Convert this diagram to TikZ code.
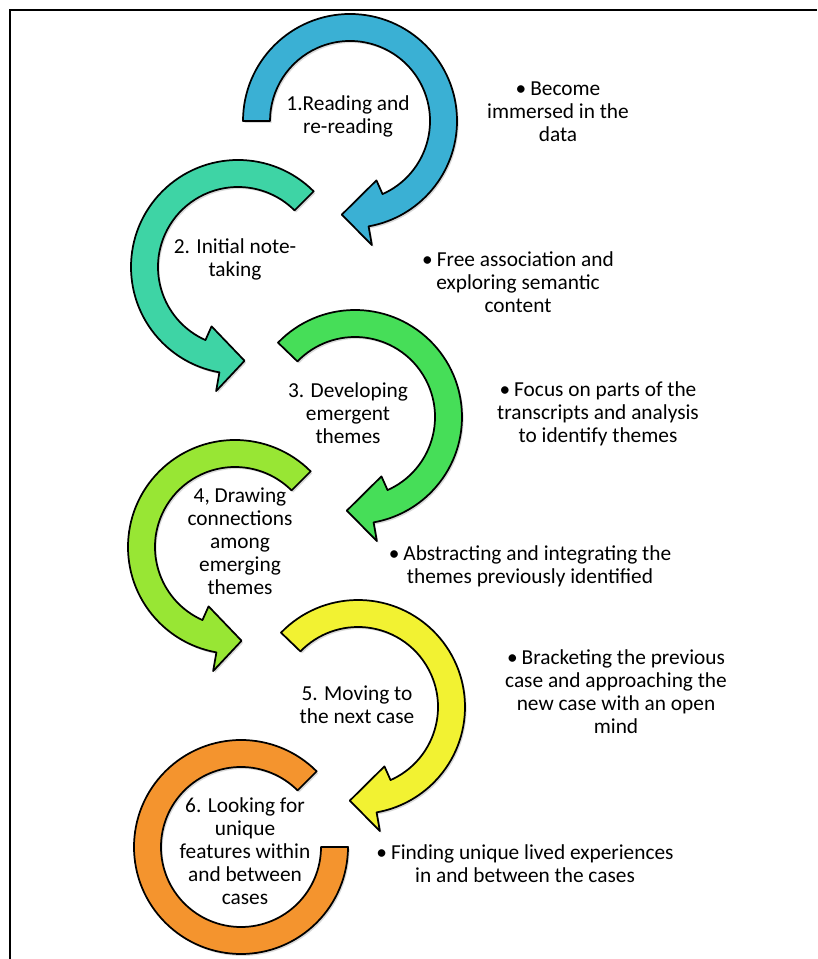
\documentclass[tikz,border=0pt]{standalone}
\usepackage{fontspec}
\setmainfont{Carlito}
\usepackage{xcolor}
\usetikzlibrary{shadows}
\definecolor{stepblue}{RGB}{58, 176, 212}
\definecolor{stepteal}{RGB}{62, 212, 165}
\definecolor{stepgreen}{RGB}{70, 222, 88}
\definecolor{steplime}{RGB}{152, 230, 52}
\definecolor{stepyellow}{RGB}{242, 242, 50}
\definecolor{steporange}{RGB}{244, 148, 46}
\tikzset{
  ringarrow/.style={draw=black, line width=1.3pt, fill=#1, line join=round,
                    drop shadow={shadow xshift=1.2pt, shadow yshift=-1.5pt, opacity=0.3}},
  steplabel/.style={align=center, inner sep=0pt, text=black,
                    font=\fontsize{16}{17.3}\selectfont},
  notelabel/.style={align=center, inner sep=0pt, text=black,
                    font=\fontsize{16}{17.3}\selectfont},
}
% clockwise ring: centre x, centre y, tail angle, colour
\newcommand{\cwring}[4]{%
  \begin{scope}[shift={(#1,#2)}]
    \filldraw[ringarrow=#4] (#3:107) arc[start angle=#3, end angle=-80, radius=107]
      -- (-80:126) -- (-95:94) -- (-66:65) -- (-66:80)
      arc[start angle=-66, end angle=#3, radius=80] -- cycle;
  \end{scope}}
% counter-clockwise ring: centre x, centre y, tail angle, colour
\newcommand{\ccwring}[4]{%
  \begin{scope}[shift={(#1,#2)}]
    \filldraw[ringarrow=#4] (#3:107) arc[start angle=#3, end angle=260, radius=107]
      -- (260:126) -- (274:94) -- (246:65) -- (246:80)
      arc[start angle=246, end angle=#3, radius=80] -- cycle;
  \end{scope}}

\begin{document}
\begin{tikzpicture}[x=0.75pt, y=0.75pt]
  \useasboundingbox (0,0) rectangle (817,959);
  % frame
  \draw[line width=2pt] (10,0) -- (10,949) -- (817,949);

  % ring arrows
  \cwring{350}{838}{180}{stepblue}
  \ccwring{238}{692}{45}{stepteal}
  \cwring{355}{542}{136}{stepgreen}
  \ccwring{235}{412}{45}{steplime}
  \cwring{358}{252}{136}{stepyellow}
  \begin{scope}[shift={(241,112)}]
    \filldraw[ringarrow=steporange] (45:107) arc[start angle=45, end angle=360, radius=107]
      -- (0:80) arc[start angle=360, end angle=45, radius=80] -- cycle;
  \end{scope}

  % step labels
  \node[steplabel] (s1) at (348,843) {1.Reading and\\re-reading};
  \node[steplabel] (s2) at (235,700) {2. Initial note-\\taking};
  \node[steplabel] (s3) at (348,546) {3. Developing\\emergent\\themes};
  \node[steplabel] (s4) at (240,418) {4, Drawing\\connections\\among\\emerging\\themes};
  \node[steplabel] (s5) at (357,254) {5. Moving to\\the next case};
  \node[steplabel] (s6) at (245,108) {6. Looking for\\unique\\features within\\and between\\cases};

  % notes
  \node[notelabel] (n1) at (558,847) {\textbullet\hspace{3pt}Become\\immersed in the\\data};
  \node[notelabel] (n2) at (518,677) {\textbullet\hspace{3pt}Free association and\\exploring semantic\\content};
  \node[notelabel] (n3) at (598,545) {\textbullet\hspace{3pt}Focus on parts of the\\transcripts and analysis\\to identify themes};
  \node[notelabel] (n4) at (530,393) {\textbullet\hspace{3pt}Abstracting and integrating the\\themes previously identified};
  \node[notelabel] (n5) at (616,267) {\textbullet\hspace{3pt}Bracketing the previous\\case and approaching the\\new case with an open\\mind};
  \node[notelabel] (n6) at (525,95) {\textbullet\hspace{3pt}Finding unique lived experiences\\in and between the cases};
\end{tikzpicture}
\end{document}
